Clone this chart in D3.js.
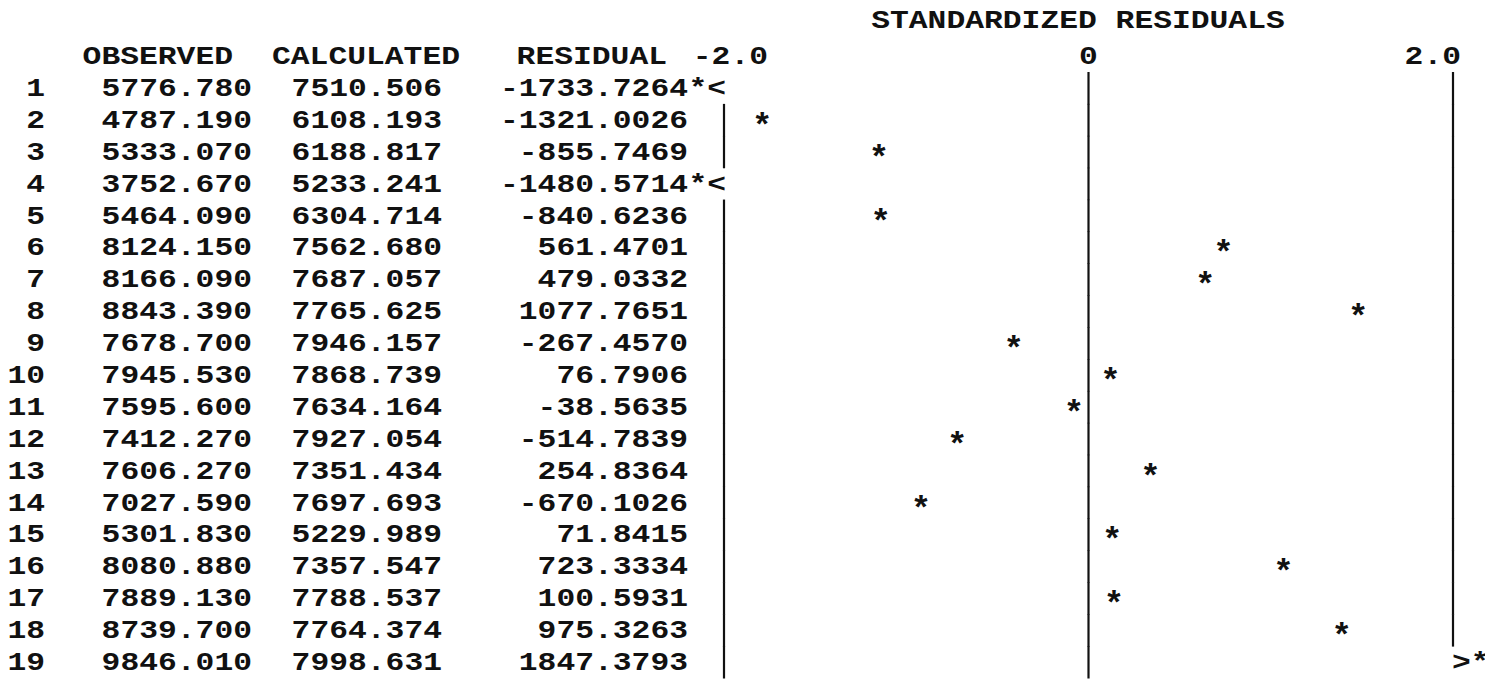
<!DOCTYPE html>
<html>
<head>
<meta charset="utf-8">
<script src="https://cdn.jsdelivr.net/npm/d3@7"></script>
<style>
  body { margin: 0; background: #fff; }
  text { font-family: "Liberation Mono", "DejaVu Sans Mono", monospace; font-weight: bold; fill: #111; }
</style>
</head>
<body>
<div class="printout"></div>
<script>
// values
const rows = [1,2,3,4,5,6,7,8,9,10,11,12,13,14,15,16,17,18,19]
const observed = [5776.780,4787.190,5333.070,3752.670,5464.090,8124.150,8166.090,8843.390,7678.700,7945.530,
  7595.600,7412.270,7606.270,7027.590,5301.830,8080.880,7889.130,8739.700,9846.010]
const calculated = [7510.506,6108.193,6188.817,5233.241,6304.714,7562.680,7687.057,7765.625,7946.157,7868.739,
  7634.164,7927.054,7351.434,7697.693,5229.989,7357.547,7788.537,7764.374,7998.631]
const residual = [-1733.7264,-1321.0026,-855.7469,-1480.5714,-840.6236,561.4701,479.0332,1077.7651,-267.4570,76.7906,
  -38.5635,-514.7839,254.8364,-670.1026,71.8415,723.3334,100.5931,975.3263,1847.3793]
// standardized residuals (where the stars sit)
const stdResid = [-2.40,-1.79,-1.15,-2.05,-1.14,0.74,0.64,1.48,-0.41,0.12,
  -0.08,-0.72,0.34,-0.92,0.13,1.07,0.14,1.39,2.55]
const axisTicks = [-2, 0, 2]
const tickLabels = ['-2.0', '0', '2.0']
const headers = ['OBSERVED', 'CALCULATED', 'RESIDUAL']
const title = 'STANDARDIZED RESIDUALS'

const width = 1485
const height = 681
const cw = 18.8   // width of one printed character
const fs = 25

const svg = d3.select('.printout')
  .append('svg')
  .attr('width', width)
  .attr('height', height)

const x = d3.scaleLinear().domain([-2, 2]).range([724, 1453])
const y = d3.scaleLinear().domain([1, 19]).range([88, 662])

// monospace text pinned at its right edge
function mono(sel, str, right, base) {
  return sel.append('text')
    .attr('x', right - str.length * cw)
    .attr('y', base)
    .attr('font-size', fs)
    .attr('textLength', str.length * cw)
    .attr('lengthAdjust', 'spacingAndGlyphs')
    .text(str)
}

mono(svg, title, 1078 + title.length * cw / 2, 28)

const headRight = [233, 460, 667]
headers.forEach((h, i) => mono(svg, h, headRight[i], 64))

// tick labels of the residual plot
mono(svg, tickLabels[0], 768, 64)
axisTicks.slice(1).forEach((t, i) => {
  const s = tickLabels[i + 1]
  mono(svg, s, x(t) + (s.length === 1 ? cw / 2 : 8), 64)
})

// table columns
const colRight = [45, 252, 442, 688]
rows.forEach((r, i) => {
  const base = y(r) + 8
  mono(svg, String(r), colRight[0], base)
  mono(svg, observed[i].toFixed(3), colRight[1], base)
  mono(svg, calculated[i].toFixed(3), colRight[2], base)
  mono(svg, residual[i].toFixed(4), colRight[3], base)
})

// the "|" columns at -2, 0 and 2, broken where a value runs past them
axisTicks.forEach(t => {
  svg.selectAll(null)
    .data(rows.filter((r, i) => !(t < 0 && stdResid[i] < t) && !(t > 0 && stdResid[i] > t)))
    .enter()
    .append('line')
    .attr('x1', x(t))
    .attr('x2', x(t))
    .attr('y1', d => y(d) - 16)
    .attr('y2', d => y(d) + 16.5)
    .attr('stroke', '#111')
    .attr('stroke-width', 2.2)
})

// stars
const pts = rows.map((r, i) => ({ r: r, z: stdResid[i] }))
svg.selectAll('.star')
  .data(pts.filter(d => d.z >= -2 && d.z <= 2))
  .enter()
  .append('text')
  .attr('class', 'star')
  .attr('x', d => x(d.z))
  .attr('y', d => y(d.r) + 16)
  .attr('font-size', 34)
  .attr('text-anchor', 'middle')
  .text('*')

// out of range: *< on the left, >* on the right
pts.filter(d => d.z < -2).forEach(d => mono(svg, '*<', x(-2) + 2, y(d.r) + 8))
pts.filter(d => d.z > 2).forEach(d => mono(svg, '>*', x(2) - 1 + 2 * cw, y(d.r) + 8))
</script>
</body>
</html>
